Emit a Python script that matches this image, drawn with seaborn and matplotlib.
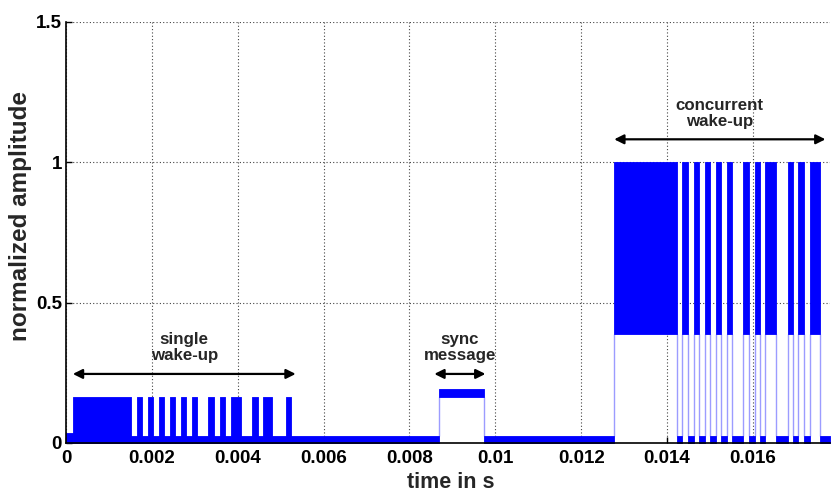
import matplotlib
matplotlib.use("Agg")
import matplotlib.pyplot as plt
import seaborn as sns
import pandas as pd
import numpy as np
from matplotlib.ticker import FuncFormatter, MultipleLocator

# ---------------- data ----------------
# "on" intervals of each burst, in seconds
single_on_start = [0.00016, 0.00165, 0.00191, 0.00216, 0.00242, 0.00267, 0.00293,
                   0.00330, 0.00358, 0.00384, 0.00433, 0.00458, 0.00512]
single_on_end = [0.00151, 0.00177, 0.00202, 0.00228, 0.00253, 0.00279, 0.00305,
                 0.00344, 0.00370, 0.00407, 0.00447, 0.00481, 0.00523]
sync_on_start = [0.00868]
sync_on_end = [0.00974]
conc_on_start = [0.01276, 0.01435, 0.01462, 0.01488, 0.01513, 0.01540, 0.01577,
                 0.01604, 0.01629, 0.01681, 0.01705, 0.01732]
conc_on_end = [0.01423, 0.01448, 0.01474, 0.01500, 0.01526, 0.01552, 0.01592,
               0.01616, 0.01654, 0.01693, 0.01718, 0.01756]

# amplitude bands (low, high) of the dense carrier in each state
single_band = (0.0, 0.163)
sync_band = (0.165, 0.193)
conc_band = (0.39, 1.0)
floor_band = (0.0, 0.025)
pre_band = (0.0, 0.035)
pre_end = 0.00016
t_end = 0.0178

# annotations: label, start, end, arrow level, text level
ann_labels = ["single\nwake-up", "sync\nmessage", "concurrent\nwake-up"]
ann_start = [0.00016, 0.00858, 0.01277]
ann_end = [0.00535, 0.00977, 0.01769]
ann_arrow_y = [0.246, 0.246, 1.082]
ann_text_y = [0.34, 0.34, 1.175]

# ---------------- build segment table ----------------
rows = []
for s, e in zip(single_on_start, single_on_end):
    rows.append(("single", s, e, *single_band))
for s, e in zip(sync_on_start, sync_on_end):
    rows.append(("sync", s, e, *sync_band))
for s, e in zip(conc_on_start, conc_on_end):
    rows.append(("concurrent", s, e, *conc_band))
on = pd.DataFrame(rows, columns=["burst", "start", "end", "low", "high"]).sort_values("start")

# off intervals (complement of on, after the pre-segment)
off_rows = [("pre", 0.0, pre_end, *pre_band)]
prev = None
for _, r in on.iterrows():
    if prev is not None and r.start > prev:
        off_rows.append(("floor", prev, r.start, *floor_band))
    prev = r.end
off_rows.append(("floor", prev, t_end, *floor_band))
off = pd.DataFrame(off_rows, columns=["burst", "start", "end", "low", "high"])

# ---------------- style ----------------
sns.set_style("white")
plt.rcParams["font.family"] = ["Liberation Sans", "DejaVu Sans"]
plt.rcParams["font.weight"] = "bold"

fig = plt.figure(figsize=(8.31, 4.91), dpi=100)
ax = fig.add_axes([0.0794, 0.0978, 0.9196, 0.8574])

blue = "#0000ff"
light = "#9c9cff"

segs = pd.concat([off, on], ignore_index=True)
for _, r in segs.iterrows():
    ax.fill_between([r.start, r.end], r.low, r.high, color=blue, linewidth=0.6,
                    edgecolor=blue, zorder=2)

# light-blue transition edges between the noise floor and the carrier band
edge_x, edge_lo, edge_hi = [], [], []
for _, r in on.iterrows():
    if r.low > floor_band[1]:
        for x in (r.start, r.end):
            edge_x.append(x)
            edge_lo.append(floor_band[1])
            edge_hi.append(r.low)
ax.vlines(edge_x, edge_lo, edge_hi, color=light, linewidth=1.0, zorder=1.5)

# annotations
for lab, s, e, ay, ty in zip(ann_labels, ann_start, ann_end, ann_arrow_y, ann_text_y):
    ax.annotate("", xy=(e, ay), xytext=(s, ay),
                arrowprops=dict(arrowstyle="<|-|>", color="black", lw=1.6,
                                mutation_scale=14, shrinkA=0, shrinkB=0),
                zorder=5)
    ax.text((s + e) / 2, ty, lab, ha="center", va="center", fontsize=12.2,
            fontweight="bold", linespacing=1.1, zorder=5)

# axes
ax.set_xlim(0, t_end)
ax.set_ylim(0, 1.5)
ax.xaxis.set_major_locator(MultipleLocator(0.002))
ax.yaxis.set_major_locator(MultipleLocator(0.5))
ax.xaxis.set_major_formatter(FuncFormatter(lambda v, p: f"{v:g}"))
ax.yaxis.set_major_formatter(FuncFormatter(lambda v, p: f"{v:g}"))
ax.grid(True, linestyle=(0, (1, 2)), color="#444444", linewidth=0.8)
ax.set_axisbelow(True)
ax.tick_params(direction="in", length=4, width=1, labelsize=13.5,
               bottom=True, left=True, colors="black")
ax.tick_params(axis="x", pad=5)
ax.tick_params(axis="y", pad=3)
for lbl in ax.get_xticklabels() + ax.get_yticklabels():
    lbl.set_fontweight("bold")
for side in ("top", "right"):
    ax.spines[side].set_visible(False)
for side in ("left", "bottom"):
    ax.spines[side].set_color("black")
    ax.spines[side].set_linewidth(1.2)
ax.set_xlabel("time in s", fontsize=15.5, fontweight="bold")
ax.set_ylabel("normalized amplitude", fontsize=17.5, fontweight="bold")
ax.xaxis.set_label_coords(0.504, -0.068)
ax.yaxis.set_label_coords(-0.0444, 0.539)

fig.savefig("out.png", dpi=100)
